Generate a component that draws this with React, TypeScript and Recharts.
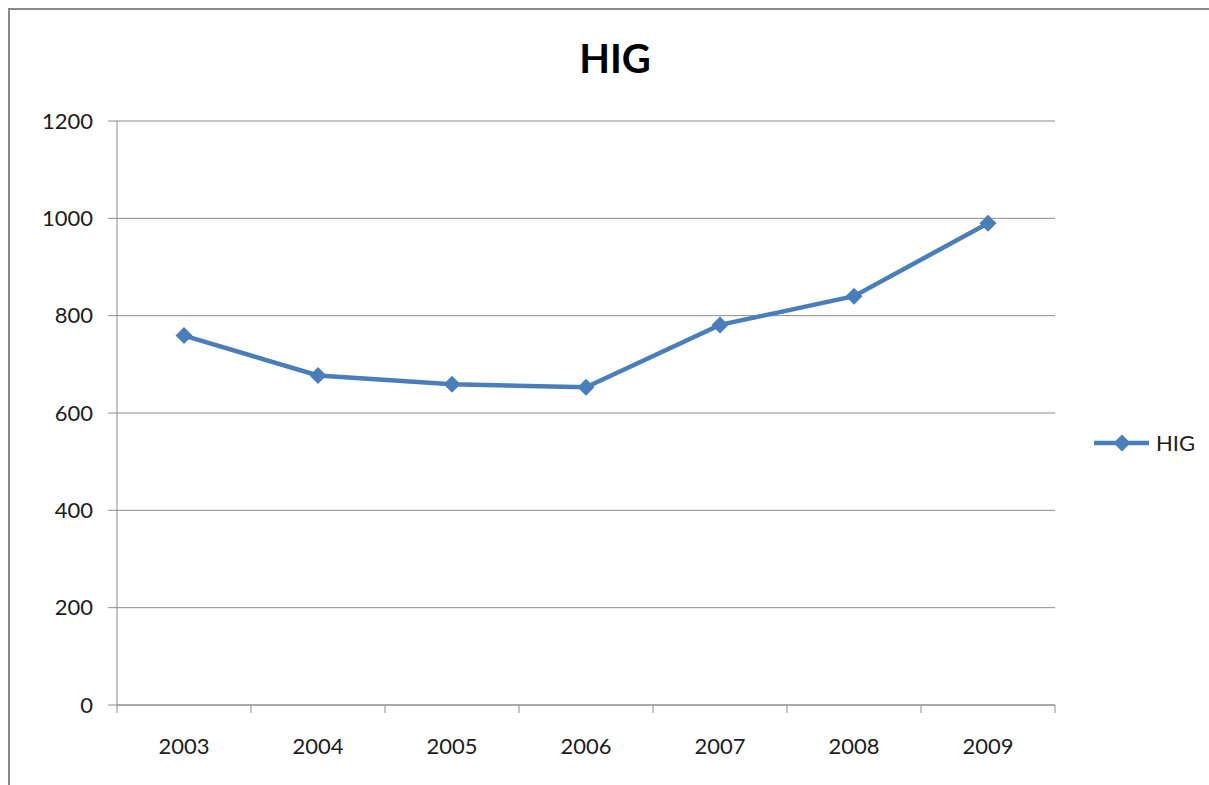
import { LineChart, Line, XAxis, YAxis, CartesianGrid, Legend } from "recharts";

// HIG yearly values
const years = ["2003", "2004", "2005", "2006", "2007", "2008", "2009"];
const higValues = [759, 677, 659, 653, 781, 840, 990];
const yTicks = [0, 200, 400, 600, 800, 1000, 1200];

const data = years.map((year, i) => ({ year, HIG: higValues[i] }));

const CHART_W = 1199;
const CHART_H = 775;
const MARGIN = { top: 111, right: 154, bottom: 0, left: 0 };
const Y_AXIS_W = 107;
const X_AXIS_H = 80;
const PLOT_W = CHART_W - MARGIN.left - MARGIN.right - Y_AXIS_W;
const HALF_BAND = PLOT_W / years.length / 2;

const BLUE = "#4a7ebb";
const AXIS = "#8c8c8c";
const TEXT = "#1c1c1c";
const FONT = "Lato, 'Open Sans', sans-serif";

function Diamond({ cx, cy, size = 8.5 }: { cx?: number; cy?: number; size?: number }) {
  if (cx == null || cy == null) return null;
  const r = size;
  return (
    <polygon
      points={`${cx},${cy - r} ${cx + r},${cy} ${cx},${cy + r} ${cx - r},${cy}`}
      fill={BLUE}
      stroke="none"
    />
  );
}

function YearTick(props: any) {
  const { x, y, payload, index } = props;
  return (
    <g>
      <line x1={x - HALF_BAND} x2={x - HALF_BAND} y1={y} y2={y + 8} stroke={AXIS} />
      {index === years.length - 1 && (
        <line x1={x + HALF_BAND} x2={x + HALF_BAND} y1={y} y2={y + 8} stroke={AXIS} />
      )}
      <text x={x} y={y + 49} textAnchor="middle" fill={TEXT} fontSize={22} fontFamily={FONT}>
        {payload.value}
      </text>
    </g>
  );
}

function LegendBox() {
  return (
    <svg width={110} height={30} style={{ display: "block" }}>
      <line x1={0} x2={55} y1={15} y2={15} stroke={BLUE} strokeWidth={4.5} />
      <Diamond cx={28} cy={15} />
      <text x={62} y={23} fill={TEXT} fontSize={22} fontFamily={FONT}>
        HIG
      </text>
    </svg>
  );
}

export default function App() {
  return (
    <div style={{ position: "fixed", left: 8, top: 8, right: 0, bottom: 0, overflow: "hidden" }}>
      <div
        style={{
          position: "relative",
          width: 1300,
          height: 900,
          borderTop: "2px solid #878787",
          borderLeft: "2px solid #878787",
          background: "#fff",
        }}
      >
        <div
          style={{
            position: "absolute",
            left: 0,
            top: 28,
            width: 1210,
            textAlign: "center",
            fontFamily: FONT,
            fontWeight: 700,
            fontSize: 40,
            lineHeight: 1,
            color: "#000",
          }}
        >
          HIG
        </div>
        <LineChart width={CHART_W} height={CHART_H} data={data} margin={MARGIN}>
          <CartesianGrid vertical={false} stroke={AXIS} strokeWidth={1} />
          <XAxis
            dataKey="year"
            height={X_AXIS_H}
            interval={0}
            padding={{ left: HALF_BAND, right: HALF_BAND }}
            axisLine={{ stroke: AXIS }}
            tickLine={false}
            tickSize={0}
            tickMargin={0}
            tick={<YearTick />}
          />
          <YAxis
            width={Y_AXIS_W}
            domain={[0, 1200]}
            ticks={yTicks}
            interval={0}
            axisLine={{ stroke: AXIS }}
            tickLine={{ stroke: AXIS }}
            tickSize={9}
            tickMargin={15}
            tick={{ fill: TEXT, fontSize: 22, fontFamily: FONT }}
          />
          <Legend
            layout="vertical"
            align="center"
            verticalAlign="middle"
            wrapperStyle={{ left: 1084, top: 418, width: 110 }}
            content={<LegendBox />}
          />
          <Line
            type="linear"
            dataKey="HIG"
            stroke={BLUE}
            strokeWidth={4.5}
            dot={(p: any) => <Diamond key={`d-${p.index}`} cx={p.cx} cy={p.cy} />}
            activeDot={false}
            isAnimationActive={false}
          />
        </LineChart>
      </div>
    </div>
  );
}
